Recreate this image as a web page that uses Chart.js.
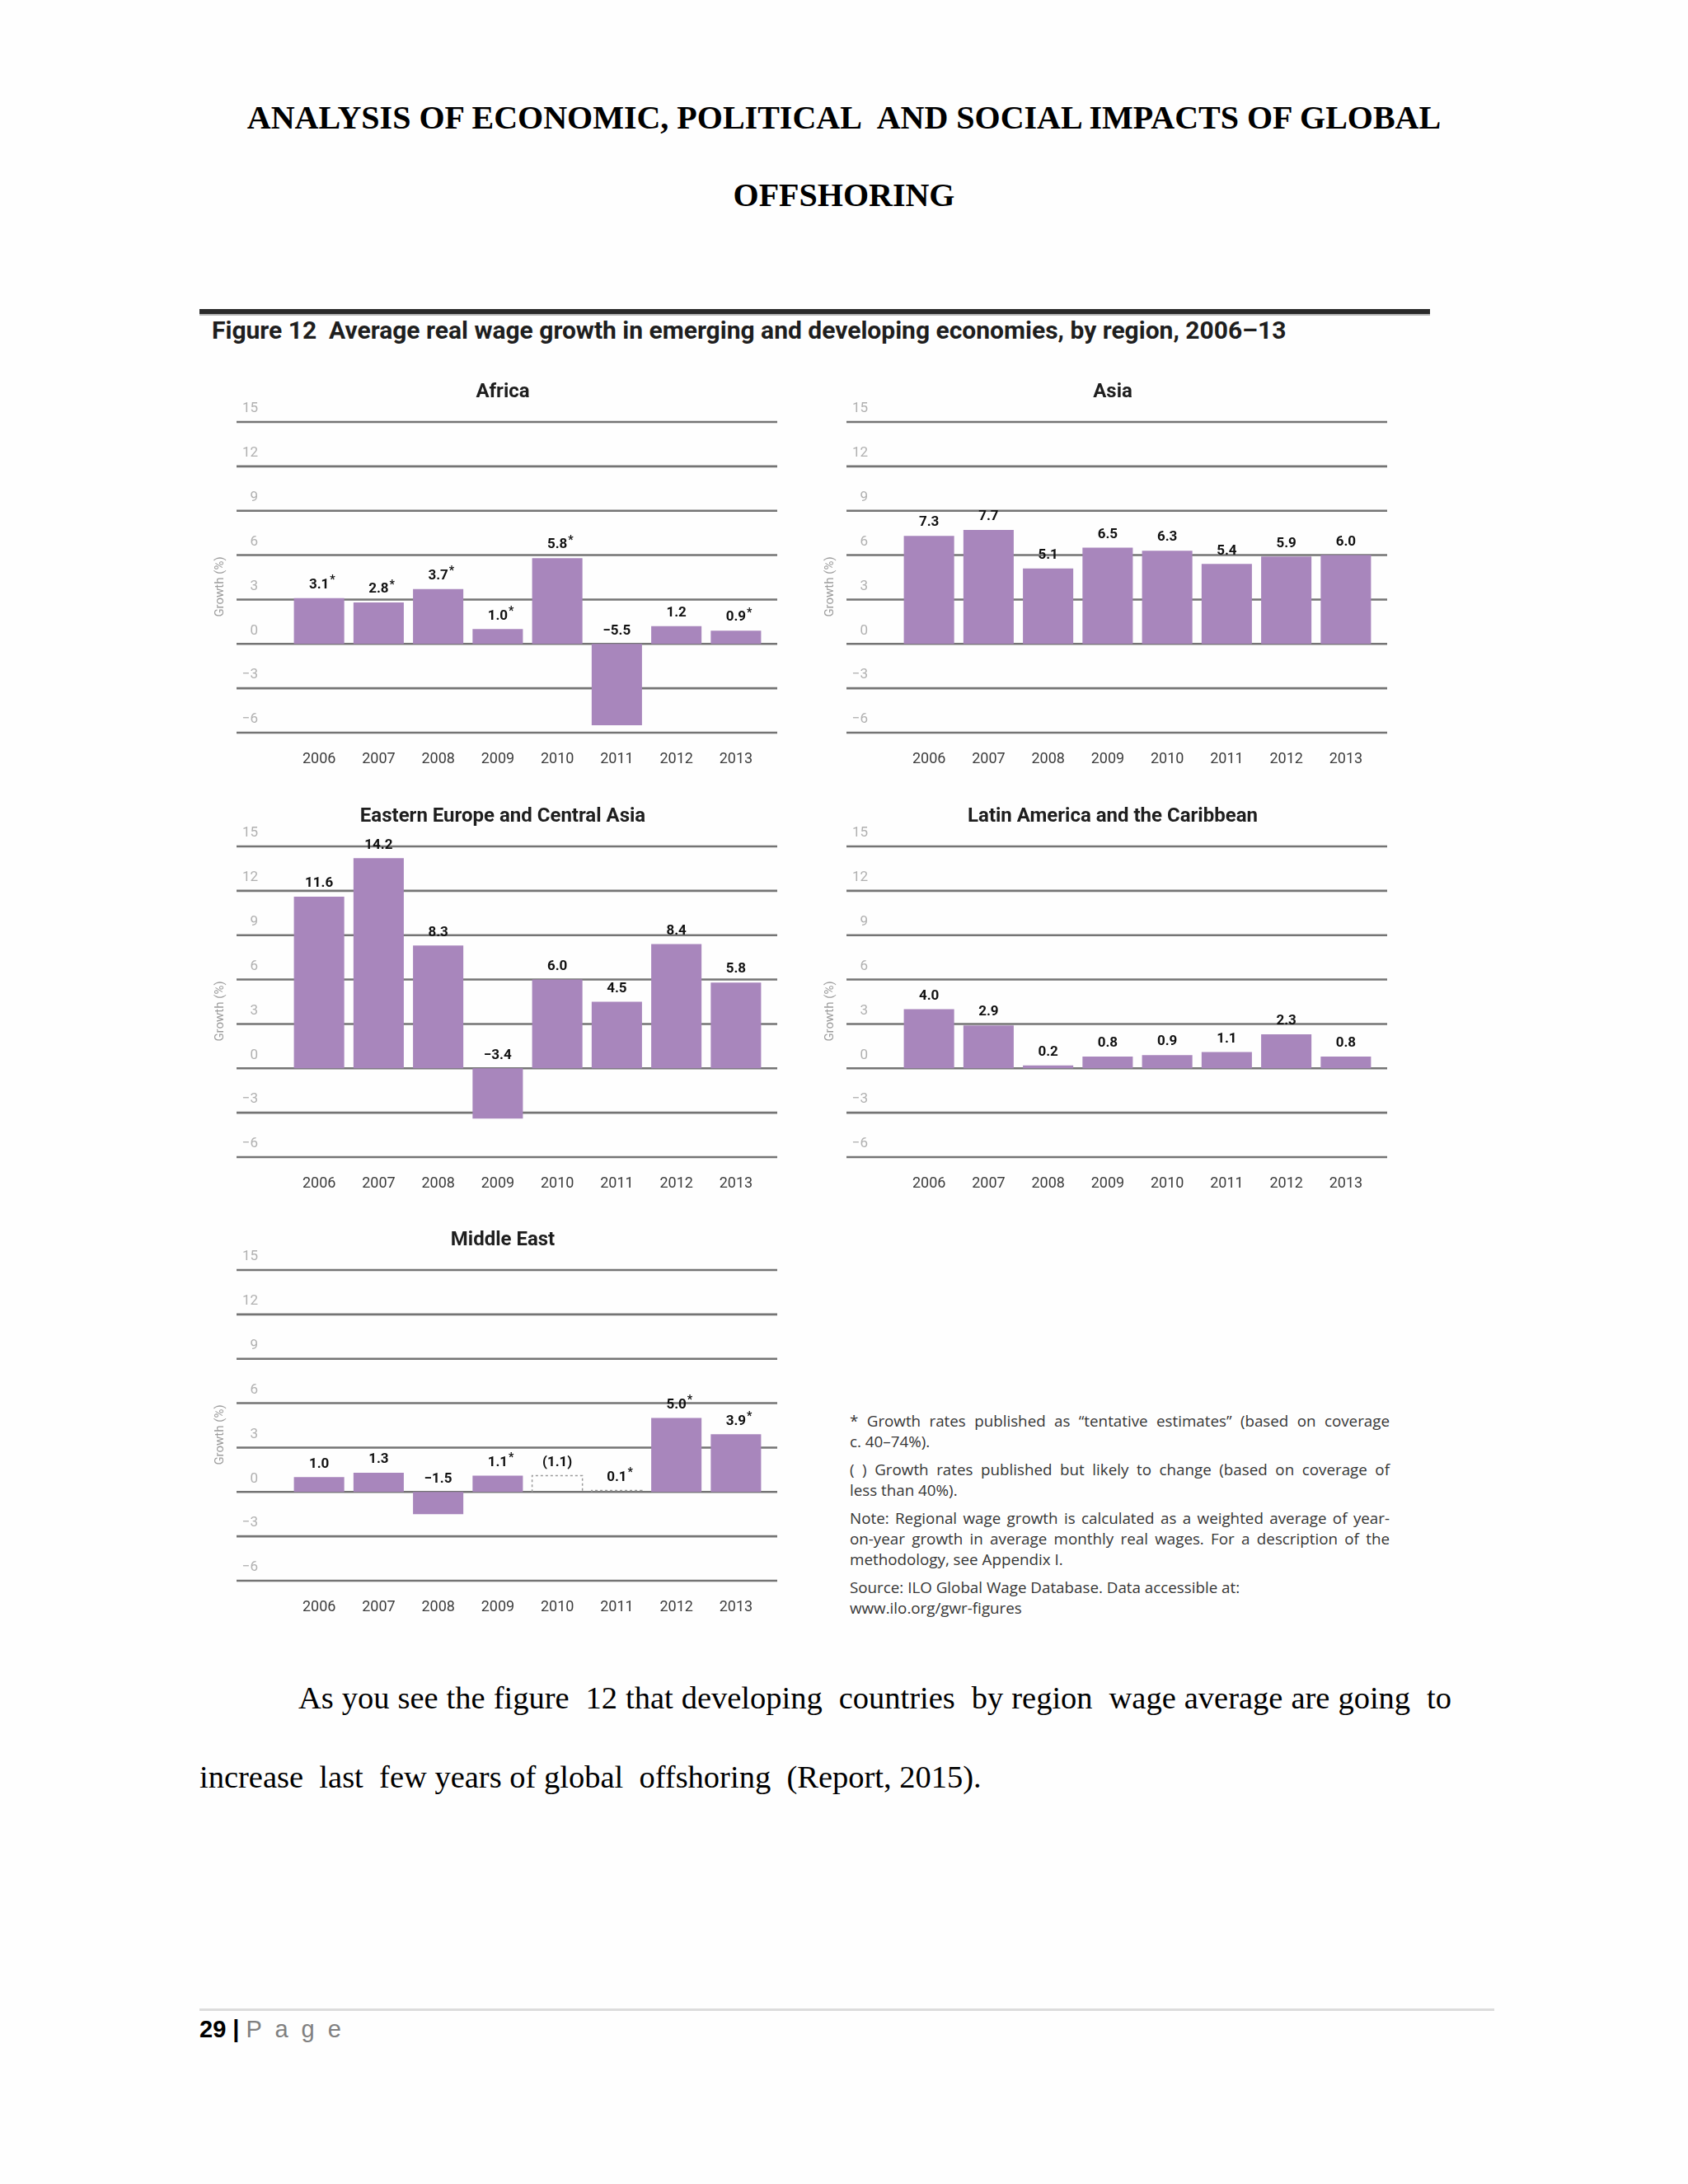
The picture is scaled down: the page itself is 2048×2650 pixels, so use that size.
<!DOCTYPE html>
<html>
<head>
<meta charset="utf-8">
<script src="https://cdn.jsdelivr.net/npm/chart.js@4.4.1/dist/chart.umd.min.js"></script>
<style>
  body { margin: 0; background: #fefefe; }
  #page { position: relative; width: 2048px; height: 2650px; overflow: hidden; }
  .abs { position: absolute; white-space: nowrap; }
  .hdr { left: 0; width: 2048px; text-align: center; font: bold 40px "Liberation Serif", serif; line-height: 50px; color: #000; }
  .body { font: 38.5px "Liberation Serif", serif; line-height: 50px; color: #000; }
  #notes { position: absolute; left: 1031px; top: 1712px; width: 655px; font: 18.8px "Open Sans", sans-serif; color: #363636; line-height: 25px; }
  #notes p { margin: 0 0 9px 0; text-align: justify; }
  #notes .nb { white-space: nowrap; }
  canvas.panel { position: absolute; }
</style>
</head>
<body>
<div id="page">
  <div class="abs hdr" style="top:118px">ANALYSIS OF ECONOMIC, POLITICAL&nbsp; AND SOCIAL IMPACTS OF GLOBAL</div>
  <div class="abs hdr" style="top:212px">OFFSHORING</div>

  <div class="abs" style="left:242px;top:375px;width:1493px;height:6px;background:#2a2a2a"></div>
  <div class="abs" style="left:242px;top:381px;width:1493px;height:2px;background:#b8b8b8"></div>
  <div class="abs" style="left:257px;top:385px;font:bold 30px Roboto, sans-serif;line-height:32px;color:#1e1e1e">Figure 12&nbsp; Average real wage growth in emerging and developing economies, by region, 2006–13</div>

  <canvas class="panel" id="africa" width="720" height="500" style="left:250px;top:450px"></canvas>
  <canvas class="panel" id="asia" width="720" height="500" style="left:990px;top:450px"></canvas>
  <canvas class="panel" id="eeca" width="720" height="500" style="left:250px;top:965px"></canvas>
  <canvas class="panel" id="latam" width="720" height="500" style="left:990px;top:965px"></canvas>
  <canvas class="panel" id="mideast" width="720" height="500" style="left:250px;top:1479px"></canvas>

  <div id="notes">
    <p>* Growth rates published as “tentative estimates” (based on coverage <span class="nb">c. 40–74%).</span></p>
    <p>( ) Growth rates published but likely to change (based on coverage of <span class="nb">less than 40%).</span></p>
    <p>Note: Regional wage growth is calculated as a weighted average of year-<span class="nb">on-year</span> growth in average monthly real wages. For a description of the methodology, see Appendix I.</p>
    <p style="text-align:left">Source: ILO Global Wage Database. Data accessible at:<br>www.ilo.org/gwr-figures</p>
  </div>

  <div class="abs body" style="left:362px;top:2035px;width:1399px;white-space:normal;text-align:justify;text-align-last:justify">As you see the figure&nbsp; 12 that developing&nbsp; countries&nbsp; by region&nbsp; wage average are going&nbsp; to</div>
  <div class="abs body" style="left:242px;top:2131px">increase&nbsp; last&nbsp; few years of global&nbsp; offshoring&nbsp; (Report, 2015).</div>

  <div class="abs" style="left:242px;top:2437px;width:1571px;height:3px;background:#dcdcdc"></div>
  <div class="abs" style="left:242px;top:2445px;font:29px 'Liberation Sans', sans-serif;line-height:34px">
    <b>29</b> <b>|</b> <span style="color:#808080;letter-spacing:4px">P a g e</span>
  </div>
</div>

<script>
const years = ['2006', '2007', '2008', '2009', '2010', '2011', '2012', '2013'];
const yTicks = [-6, -3, 0, 3, 6, 9, 12, 15];

const africaVals = [3.1, 2.8, 3.7, 1.0, 5.8, -5.5, 1.2, 0.9];
const africaStar = [1, 1, 1, 1, 1, 0, 0, 1];

const asiaVals = [7.3, 7.7, 5.1, 6.5, 6.3, 5.4, 5.9, 6.0];

const eecaVals = [11.6, 14.2, 8.3, -3.4, 6.0, 4.5, 8.4, 5.8];

const latamVals = [4.0, 2.9, 0.2, 0.8, 0.9, 1.1, 2.3, 0.8];

const meVals = [1.0, 1.3, -1.5, 1.1, 1.1, 0.1, 5.0, 3.9];
const meStar = [0, 0, 0, 1, 0, 1, 1, 1];
const meParen = [0, 0, 0, 0, 1, 0, 0, 0];
const meOutline = [0, 0, 0, 0, 1, 1, 0, 0];

const barColor = '#a886bc';

// grid, ticks, titles and bar labels drawn from the chart's own scales
const panelPlugin = {
    id: 'panel',
    beforeDatasetsDraw: function (chart, args, o) {
        const ctx = chart.ctx;
        const y = chart.scales.y;
        ctx.save();
        yTicks.forEach(function (t) {
            const py = y.getPixelForValue(t);
            ctx.strokeStyle = '#747474';
            ctx.lineWidth = 2.6;
            ctx.beginPath();
            ctx.moveTo(37, py);
            ctx.lineTo(693, py);
            ctx.stroke();
            ctx.fillStyle = '#b0b0b0';
            ctx.font = '17px Roboto';
            ctx.textAlign = 'right';
            ctx.textBaseline = 'middle';
            ctx.fillText(t < 0 ? '\u2212' + Math.abs(t) : String(t), 63, py - 16);
        });

        ctx.fillStyle = '#1e1e1e';
        ctx.font = 'bold 24px Roboto';
        ctx.textAlign = 'center';
        ctx.fillText(o.title, 360, 26);

        ctx.translate(17, 262);
        ctx.rotate(-Math.PI / 2);
        ctx.fillStyle = '#9c9c9c';
        ctx.font = '15px Roboto';
        ctx.fillText('Growth (%)', 0, 0);
        ctx.restore();
    },
    afterDatasetsDraw: function (chart, args, o) {
        const ctx = chart.ctx;
        const meta = chart.getDatasetMeta(0);
        const vals = chart.data.datasets[0].data;
        ctx.save();
        meta.data.forEach(function (el, i) {
            const v = vals[i];
            if (o.outline && o.outline[i]) {
                const l = el.x - el.width / 2, r = el.x + el.width / 2;
                ctx.strokeStyle = '#9a9a9a';
                ctx.lineWidth = 1.5;
                ctx.setLineDash([3, 3]);
                ctx.beginPath();
                ctx.moveTo(l, el.base);
                ctx.lineTo(l, el.y);
                ctx.lineTo(r, el.y);
                ctx.lineTo(r, el.base);
                ctx.stroke();
                ctx.setLineDash([]);
            }
            let txt = (v < 0 ? '\u2212' : '') + Math.abs(v).toFixed(1);
            if (o.paren && o.paren[i]) txt = '(' + txt + ')';
            const top = Math.min(el.y, el.base) - 16;
            ctx.fillStyle = '#111';
            ctx.font = 'bold 17px Roboto';
            ctx.textAlign = 'center';
            ctx.textBaseline = 'middle';
            ctx.fillText(txt, el.x, top);
            if (o.stars && o.stars[i]) {
                const w = ctx.measureText(txt).width;
                ctx.font = 'bold 14px Roboto';
                ctx.textAlign = 'left';
                ctx.fillText('*', el.x + w / 2 + 1, top - 5);
            }
            ctx.fillStyle = '#3c3c3c';
            ctx.font = '18px Roboto';
            ctx.textAlign = 'center';
            ctx.fillText(years[i], el.x, 471);
        });
        ctx.restore();
    }
};

function drawPanel(id, title, vals, extra) {
    extra = extra || {};
    const colors = vals.map(function (v, i) {
        return extra.outline && extra.outline[i] ? 'rgba(0,0,0,0)' : barColor;
    });
    new Chart(id, {
        type: 'bar',
        data: {
            labels: years,
            datasets: [{
                data: vals,
                backgroundColor: colors,
                borderWidth: 0,
                barPercentage: 0.845,
                categoryPercentage: 1
            }]
        },
        options: {
            responsive: false,
            animation: false,
            layout: { padding: { left: 101, right: 41, top: 62, bottom: 61 } },
            scales: {
                x: { display: false },
                y: { display: false, min: -6, max: 15 }
            },
            plugins: {
                legend: { display: false },
                tooltip: { enabled: false },
                panel: {
                    title: title,
                    stars: extra.stars,
                    paren: extra.paren,
                    outline: extra.outline
                }
            }
        },
        plugins: [panelPlugin]
    });
}

drawPanel('africa', 'Africa', africaVals, { stars: africaStar });
drawPanel('asia', 'Asia', asiaVals);
drawPanel('eeca', 'Eastern Europe and Central Asia', eecaVals);
drawPanel('latam', 'Latin America and the Caribbean', latamVals);
drawPanel('mideast', 'Middle East', meVals, { stars: meStar, paren: meParen, outline: meOutline });
</script>
</body>
</html>
